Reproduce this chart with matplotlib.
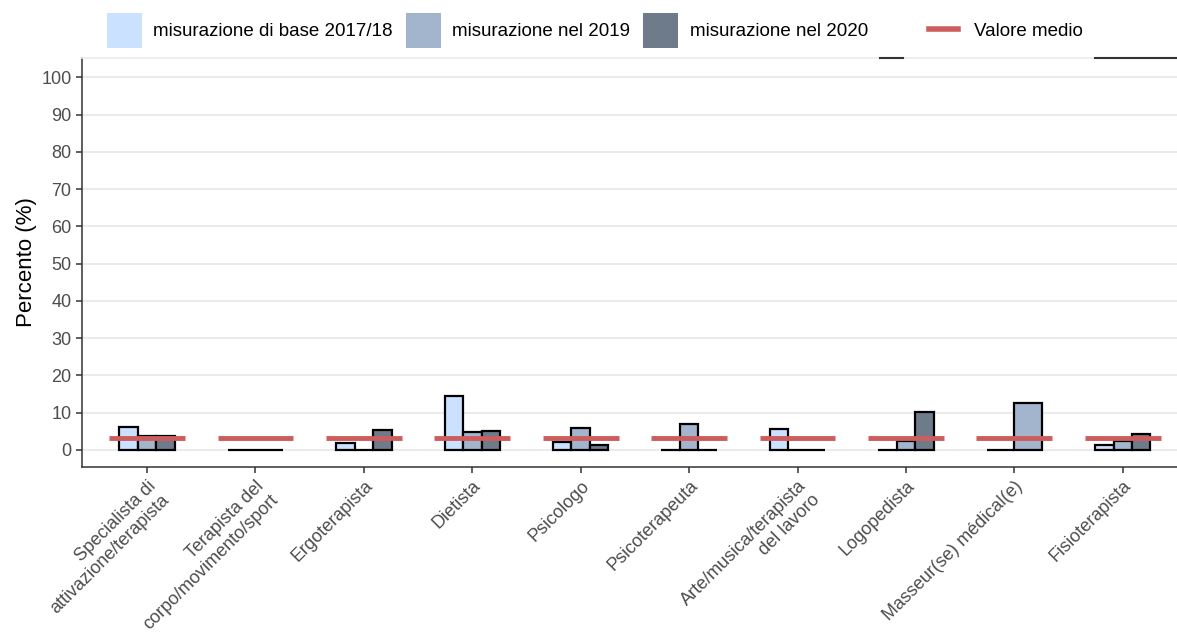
import matplotlib
matplotlib.use("Agg")
import matplotlib.pyplot as plt
import numpy as np
from matplotlib.patches import Patch
from matplotlib.lines import Line2D

plt.rcParams['font.family'] = ['Liberation Sans', 'DejaVu Sans']

categories = ["Specialista di\nattivazione/terapista", "Terapista del\ncorpo/movimento/sport",
              "Ergoterapista", "Dietista", "Psicologo", "Psicoterapeuta",
              "Arte/musica/terapista\ndel lavoro", "Logopedista", "Masseur(se) médical(e)",
              "Fisioterapista"]
series_names = ["misurazione di base 2017/18", "misurazione nel 2019", "misurazione nel 2020"]
base_2017 = [6.1, 0.0, 1.8, 14.5, 2.0, 0.0, 5.6, 0.0, 0.0, 1.2]
val_2019 = [3.6, 0.0, 0.0, 4.8, 5.8, 7.0, 0.0, 2.5, 12.7, 2.3]
val_2020 = [3.6, 0.0, 5.3, 5.0, 1.2, 0.0, 0.0, 10.2, None, 4.3]
mean_value = [3.1] * 10
colors = ["#CAE1FF", "#A2B5CD", "#6E7B8B"]
mean_color = "#CD5C5C"

W, H = 1177, 634
fig = plt.figure(figsize=(W/100, H/100), dpi=100)
ax = fig.add_axes([82/W, 1-467/H, 1-82/W, (467-58)/H])

series = [base_2017, val_2019, val_2020]
total_w = 0.51
for i in range(len(categories)):
    present = [k for k in range(3) if series[k][i] is not None]
    n = len(present)
    w = total_w / n
    for j, k in enumerate(present):
        xc = i - total_w/2 + w*(j+0.5)
        ax.bar(xc, series[k][i], width=w, color=colors[k], edgecolor="black",
               linewidth=1.6, zorder=3)
    ax.plot([i-0.35, i+0.35], [mean_value[i]]*2, color=mean_color, lw=3.5,
            zorder=4, solid_capstyle='butt')

ax.set_xlim(-0.6, 9.5)
ax.set_ylim(-4.6, 105.2)
ax.set_yticks(np.arange(0, 101, 10))
ax.set_xticks(range(len(categories)))
ax.set_xticklabels(categories, rotation=45, ha='right', rotation_mode='anchor',
                   multialignment='right')
ax.tick_params(axis='both', labelsize=13, labelcolor="#4D4D4D", color="#333333",
               length=4, width=1.1)
ax.yaxis.grid(True, color="#EBEBEB", lw=1.4, zorder=0)
ax.set_axisbelow(True)
ax.spines['right'].set_visible(False)
ax.spines['top'].set_color("#EBEBEB")
ax.spines['top'].set_linewidth(1.2)
for s in ['left', 'bottom']:
    ax.spines[s].set_color("#333333")
    ax.spines[s].set_linewidth(1.1)
ax.set_ylabel("Percento (%)", fontsize=16, color="black", labelpad=3)

fs = 13.5
handles = [Patch(facecolor=c, edgecolor='none') for c in colors]
leg1 = fig.legend(handles, series_names, loc='upper left',
                  bbox_to_anchor=(107/W, 1-13/H), ncol=3, frameon=False, fontsize=fs,
                  handlelength=1.87, handleheight=2.5, columnspacing=0.7,
                  handletextpad=0.6, borderpad=0, borderaxespad=0)
leg2 = fig.legend([Line2D([], [], color=mean_color, lw=4)], ["Valore medio"],
                  loc='center left', bbox_to_anchor=(929/W, 1-31/H), frameon=False,
                  fontsize=fs, handlelength=1.55, handletextpad=0.85,
                  borderpad=0, borderaxespad=0)

fig.add_artist(Line2D([880/W, 903/W], [1-58/H]*2, color="#333333", lw=1.5))
fig.add_artist(Line2D([1095/W, 1.0], [1-58/H]*2, color="#333333", lw=1.5))

fig.savefig("out.png", dpi=100)
